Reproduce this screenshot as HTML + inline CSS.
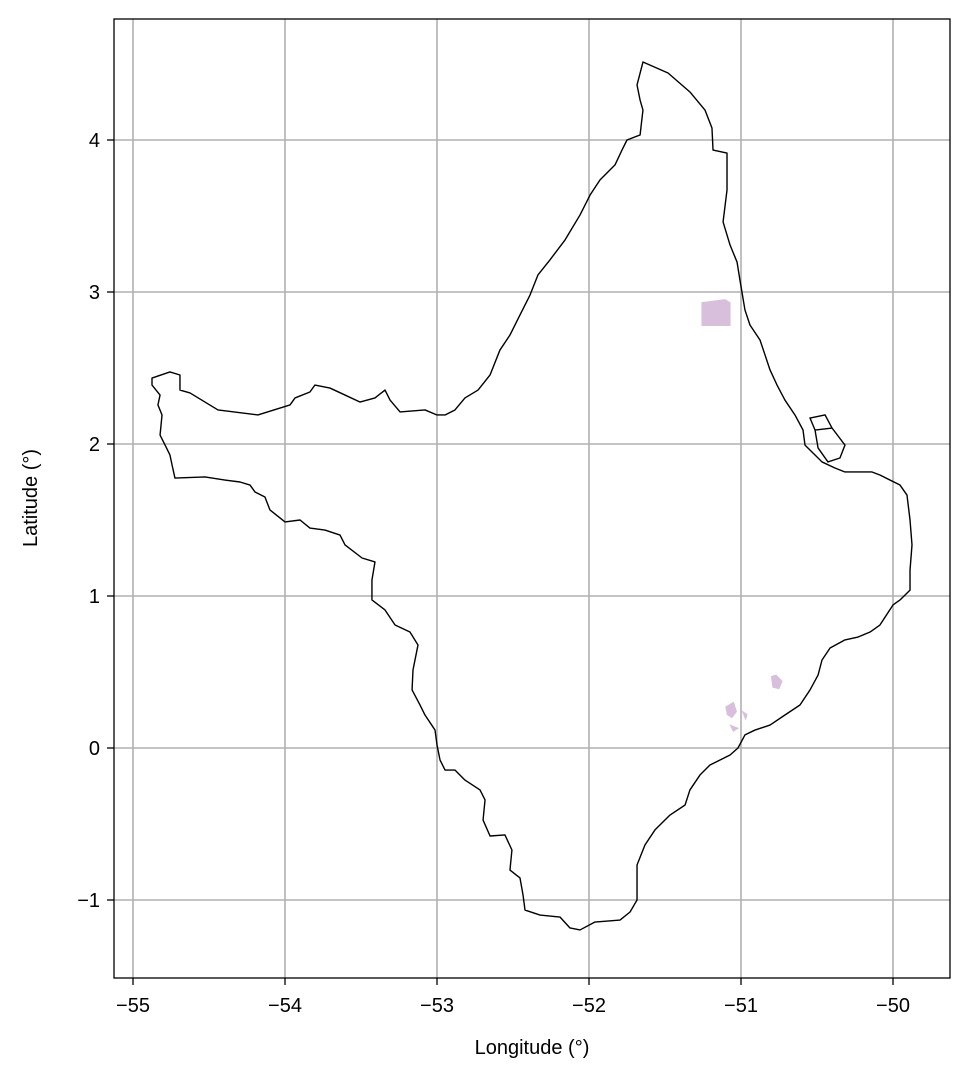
<!DOCTYPE html>
<html><head><meta charset="utf-8"><style>
body{margin:0;background:#fff;}
svg text{font-family:"Liberation Sans","DejaVu Sans",sans-serif;fill:#000;}
</style></head><body>
<svg id="chart" width="969" height="1080" xmlns="http://www.w3.org/2000/svg">
<rect width="969" height="1080" fill="#fff"/>
<g id="grid"></g>
<g id="marks"></g>
<rect x="114" y="19" width="836" height="959" fill="none" stroke="#000" stroke-width="1.3"/>
<g id="ticks"></g>
<text x="532" y="1054" font-size="20" text-anchor="middle">Longitude (°)</text>
<text transform="translate(37,498) rotate(-90)" font-size="20" text-anchor="middle">Latitude (°)</text>
</svg>
<script>
const xTicks=[-55,-54,-53,-52,-51,-50];
const yTicks=[-1,0,1,2,3,4];
const outlineLon=[-51.645,-51.480,-51.336,-51.237,-51.191,-51.184,-51.092,-51.092,-51.118,-51.072,-51.026,-51.007,-50.974,-50.941,-50.875,-50.842,-50.809,-50.763,-50.711,-50.645,-50.592,-50.579,-50.513,-50.467,-50.382,-50.316,-50.138,-50.086,-49.954,-49.908,-49.888,-49.875,-49.888,-49.888,-49.954,-50.0,-50.086,-50.151,-50.230,-50.316,-50.414,-50.467,-50.493,-50.546,-50.612,-50.711,-50.809,-50.908,-50.974,-51.020,-51.072,-51.204,-51.270,-51.336,-51.368,-51.467,-51.566,-51.632,-51.684,-51.684,-51.730,-51.796,-51.961,-52.059,-52.125,-52.191,-52.322,-52.421,-52.434,-52.454,-52.520,-52.507,-52.553,-52.651,-52.697,-52.684,-52.717,-52.816,-52.882,-52.947,-52.980,-53.0,-53.013,-53.079,-53.112,-53.164,-53.158,-53.125,-53.178,-53.276,-53.342,-53.428,-53.428,-53.408,-53.493,-53.605,-53.638,-53.737,-53.836,-53.901,-54.0,-54.099,-54.132,-54.197,-54.230,-54.296,-54.395,-54.526,-54.724,-54.743,-54.757,-54.789,-54.822,-54.809,-54.836,-54.822,-54.875,-54.875,-54.757,-54.691,-54.691,-54.625,-54.441,-54.178,-53.967,-53.934,-53.836,-53.803,-53.704,-53.605,-53.507,-53.408,-53.342,-53.309,-53.243,-53.079,-53.0,-52.947,-52.882,-52.816,-52.730,-52.651,-52.586,-52.520,-52.454,-52.388,-52.336,-52.257,-52.158,-52.059,-51.993,-51.928,-51.829,-51.783,-51.750,-51.664,-51.645,-51.664,-51.684];
const outlineLat=[4.513,4.441,4.316,4.197,4.079,3.934,3.914,3.671,3.461,3.309,3.197,3.079,2.882,2.783,2.684,2.586,2.487,2.388,2.289,2.191,2.092,1.993,1.928,1.882,1.842,1.816,1.816,1.796,1.730,1.664,1.500,1.336,1.171,1.039,0.974,0.941,0.809,0.763,0.730,0.711,0.658,0.579,0.480,0.382,0.283,0.217,0.151,0.118,0.086,0.0,-0.046,-0.112,-0.178,-0.276,-0.375,-0.441,-0.539,-0.638,-0.770,-1.0,-1.079,-1.132,-1.145,-1.197,-1.184,-1.112,-1.099,-1.066,-0.967,-0.855,-0.803,-0.671,-0.572,-0.579,-0.474,-0.342,-0.276,-0.211,-0.145,-0.145,-0.079,0.020,0.118,0.217,0.283,0.382,0.513,0.678,0.763,0.809,0.908,0.974,1.105,1.224,1.250,1.336,1.401,1.434,1.447,1.500,1.487,1.566,1.651,1.684,1.730,1.750,1.763,1.783,1.776,1.862,1.928,1.993,2.059,2.191,2.257,2.322,2.388,2.434,2.474,2.454,2.355,2.336,2.224,2.191,2.257,2.303,2.342,2.388,2.368,2.322,2.276,2.303,2.355,2.289,2.211,2.224,2.191,2.191,2.224,2.303,2.355,2.454,2.618,2.717,2.849,2.980,3.112,3.211,3.342,3.507,3.638,3.737,3.836,3.934,4.0,4.033,4.197,4.263,4.362];
const islandLon=[-50.546,-50.447,-50.401,-50.316,-50.349,-50.428,-50.493,-50.513];
const islandLat=[2.171,2.191,2.105,1.993,1.908,1.882,1.974,2.092];
const dividerLon=[-50.513,-50.401];
const dividerLat=[2.092,2.105];
const areaLon=[[-51.257,-51.105,-51.072,-51.072,-51.257],[-50.80,-50.77,-50.73,-50.75,-50.79],[-51.10,-51.05,-51.03,-51.06,-51.09],[-51.07,-51.02,-51.05],[-50.99,-50.96,-50.97]];
const areaLat=[[2.93,2.95,2.93,2.78,2.78],[0.47,0.48,0.44,0.39,0.40],[0.27,0.30,0.24,0.20,0.22],[0.15,0.13,0.11],[0.24,0.22,0.19]];
const X=v=>133+(v+55)*152, Y=v=>748-v*152;
const NS='http://www.w3.org/2000/svg';
function mk(t,a,p){const e=document.createElementNS(NS,t);for(const k in a)e.setAttribute(k,a[k]);p.appendChild(e);return e;}
const grid=document.getElementById('grid'),ticks=document.getElementById('ticks'),marks=document.getElementById('marks');
xTicks.forEach(v=>{const x=X(v);
 const g=mk('line',{x1:x,x2:x,y1:19,y2:978,stroke:'#b0b0b0','stroke-width':1.6},grid);
 
 
 mk('line',{x1:x,x2:x,y1:978,y2:985,stroke:'#000','stroke-width':1.3},ticks);
 const t=mk('text',{x:x,y:1012,'font-size':20,'text-anchor':'middle'},ticks);t.textContent=String(v).replace('-','\u2212');
 
 });
yTicks.forEach(v=>{const y=Y(v);
 const g=mk('line',{x1:114,x2:950,y1:y,y2:y,stroke:'#b0b0b0','stroke-width':1.6},grid);
 
 
 mk('line',{x1:107,x2:114,y1:y,y2:y,stroke:'#000','stroke-width':1.3},ticks);
 const t=mk('text',{x:100,y:y+7,'font-size':20,'text-anchor':'end'},ticks);t.textContent=String(v).replace('-','\u2212');
 
 });
areaLon.forEach((lo,i)=>{const pts=lo.map((v,j)=>X(v)+','+Y(areaLat[i][j])).join(' ');
 const p=mk('polygon',{points:pts,fill:'#d8bfdc',stroke:'#d8bfdc','stroke-width':1},marks);
 
 });
const op=mk('polygon',{points:outlineLon.map((v,i)=>X(v)+','+Y(outlineLat[i])).join(' '),fill:'none',stroke:'#000','stroke-width':1.4,'stroke-linejoin':'round'},marks);


const ip=mk('polygon',{points:islandLon.map((v,i)=>X(v)+','+Y(islandLat[i])).join(' '),fill:'none',stroke:'#000','stroke-width':1.4},marks);


const dl=mk('polyline',{points:dividerLon.map((v,i)=>X(v)+','+Y(dividerLat[i])).join(' '),fill:'none',stroke:'#000','stroke-width':1.4},marks);


</script>
</body></html>
